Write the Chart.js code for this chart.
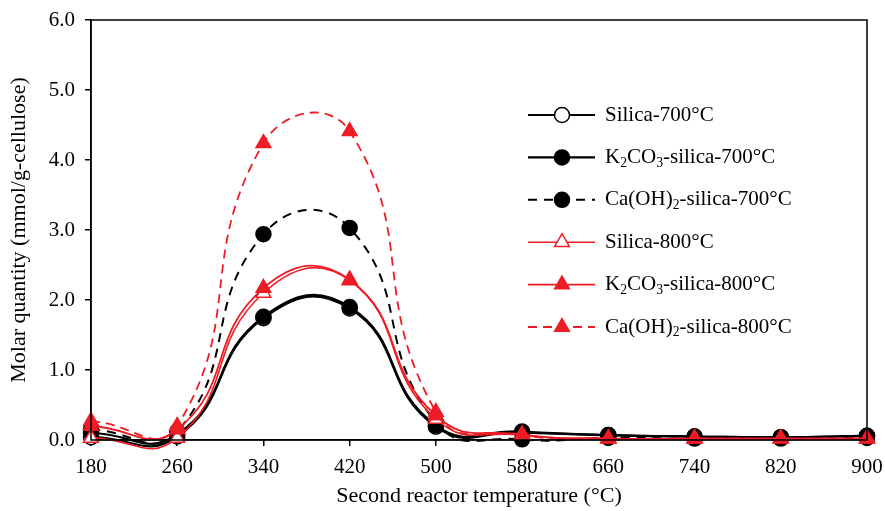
<!DOCTYPE html>
<html>
<head>
<meta charset="utf-8">
<script src="https://cdn.jsdelivr.net/npm/chart.js@4.4.1/dist/chart.umd.min.js"></script>
<style>
  html, body { margin: 0; padding: 0; background: #fff; }
  #wrap { width: 885px; height: 511px; }
</style>
</head>
<body>
<div id="wrap"><canvas id="chart" width="885" height="511"></canvas></div>
<script>
const temps = [180, 260, 340, 420, 500, 580, 660, 740, 820, 900];

const silica700 = [0.04, 0.05, 1.74, 1.88, 0.19, 0.11, 0.07, 0.05, 0.04, 0.06];
const k2co3700  = [0.10, 0.08, 1.76, 1.90, 0.21, 0.12, 0.07, 0.05, 0.04, 0.06];
const caoh700   = [0.15, 0.12, 2.94, 3.03, 0.25, 0.01, 0.03, 0.02, 0.02, 0.03];
const silica800 = [0.03, 0.03, 2.10, 2.28, 0.30, 0.07, 0.02, 0.02, 0.02, 0.02];
const k2co3800  = [0.20, 0.15, 2.17, 2.29, 0.35, 0.08, 0.02, 0.02, 0.02, 0.02];
const caoh800   = [0.27, 0.20, 4.24, 4.41, 0.40, 0.07, 0.02, 0.02, 0.02, 0.02];

// "_2" means subscript 2
const labels = [
  'Silica-700°C',
  'K_2CO_3-silica-700°C',
  'Ca(OH)_2-silica-700°C',
  'Silica-800°C',
  'K_2CO_3-silica-800°C',
  'Ca(OH)_2-silica-800°C'
];

const yTicks = [0, 1, 2, 3, 4, 5, 6];

const RED = '#ee1c24';
const serif = '"Liberation Serif", "Times New Roman", serif';

function pts(vals) {
  return vals.map((v, i) => ({ x: temps[i], y: v }));
}

function series(label, vals, color, fill, style, dash, width, order) {
  return {
    label, data: pts(vals),
    borderColor: color, backgroundColor: fill,
    pointBackgroundColor: fill, pointBorderColor: color,
    pointStyle: style,
    pointRadius: style === 'triangle' ? 8.5 : 7.5,
    pointBorderWidth: 1.5,
    borderWidth: width,
    borderDash: dash,
    tension: 0.5,
    clip: false,
    order
  };
}

// higher order is drawn first (underneath)
const datasets = [
  series(labels[0], silica700, '#000', '#fff', 'circle', [], 2.2, 6),
  series(labels[1], k2co3700, '#000', '#000', 'circle', [], 2.2, 5),
  series(labels[2], caoh700, '#000', '#000', 'circle', [9, 7], 2, 4),
  series(labels[3], silica800, RED, '#fff', 'triangle', [], 1.6, 3),
  series(labels[4], k2co3800, RED, RED, 'triangle', [], 1.8, 2),
  series(labels[5], caoh800, RED, RED, 'triangle', [9, 6], 1.8, 1)
];

function drawRich(ctx, text, x, y, size) {
  const parts = text.split(/_(\d)/);
  let cx = x;
  parts.forEach((p, i) => {
    if (!p) return;
    const sub = i % 2 === 1;
    ctx.font = (sub ? size * 0.65 : size) + 'px ' + serif;
    ctx.fillText(p, cx, sub ? y + size * 0.28 : y);
    cx += ctx.measureText(p).width;
  });
}

const boxAndLegend = {
  id: 'boxAndLegend',
  afterDraw(chart) {
    const ctx = chart.ctx;
    const a = chart.chartArea;
    ctx.save();
    ctx.strokeStyle = '#000';
    ctx.lineWidth = 1.5;
    ctx.strokeRect(a.left, a.top, a.right - a.left, a.bottom - a.top);

    chart.data.datasets.forEach((ds, i) => {
      const y = 115 + i * 42.4;
      const x0 = 528, x1 = 595, xm = 562;
      ctx.strokeStyle = ds.borderColor;
      ctx.lineWidth = ds.borderWidth;
      ctx.setLineDash(ds.borderDash);
      ctx.beginPath();
      ctx.moveTo(x0, y);
      ctx.lineTo(x1, y);
      ctx.stroke();
      ctx.setLineDash([]);
      ctx.fillStyle = ds.pointBackgroundColor;
      ctx.strokeStyle = ds.pointBorderColor;
      ctx.lineWidth = ds.pointBorderWidth;
      Chart.helpers.drawPoint(ctx, {
        pointStyle: ds.pointStyle, radius: ds.pointRadius,
        borderWidth: ds.pointBorderWidth, rotation: 0
      }, xm, y);
      ctx.fillStyle = '#000';
      ctx.textBaseline = 'middle';
      ctx.textAlign = 'left';
      drawRich(ctx, ds.label, 605, y, 21);
    });
    ctx.restore();
  }
};

new Chart(document.getElementById('chart'), {
  type: 'line',
  data: { datasets },
  options: {
    responsive: false,
    animation: false,
    layout: { padding: { top: 20, right: 18, left: 0, bottom: 0 } },
    elements: { line: { capBezierPoints: false } },
    plugins: { legend: { display: false }, tooltip: { enabled: false } },
    scales: {
      x: {
        type: 'linear',
        min: 180, max: 900,
        afterFit: s => { s.height = 71; s.paddingLeft = 0; s.paddingRight = 0; },
        ticks: {
          stepSize: 80, color: '#000', padding: 9,
          font: { family: serif, size: 21 },
          maxRotation: 0
        },
        grid: { drawOnChartArea: false, drawTicks: true, tickLength: 6, color: '#000', lineWidth: 1.5 },
        border: { color: '#000', width: 1.5 },
        title: {
          display: true, text: 'Second reactor temperature (°C)', color: '#000',
          font: { family: serif, size: 22 }, padding: { top: 0, bottom: 2 }
        }
      },
      y: {
        min: 0, max: 6,
        afterFit: s => { s.width = 91; s.paddingTop = 0; s.paddingBottom = 0; },
        afterBuildTicks: s => { s.ticks = yTicks.map(v => ({ value: v })); },
        ticks: {
          color: '#000', padding: 10,
          font: { family: serif, size: 21 },
          callback: v => v.toFixed(1)
        },
        grid: { drawOnChartArea: false, drawTicks: true, tickLength: 6, color: '#000', lineWidth: 1.5 },
        border: { color: '#000', width: 1.5 },
        title: {
          display: true, text: 'Molar quantity (mmol/g-cellulose)', color: '#000',
          font: { family: serif, size: 22 }, padding: { top: 6, bottom: 0 }
        }
      }
    }
  },
  plugins: [boxAndLegend]
});
</script>
</body>
</html>
